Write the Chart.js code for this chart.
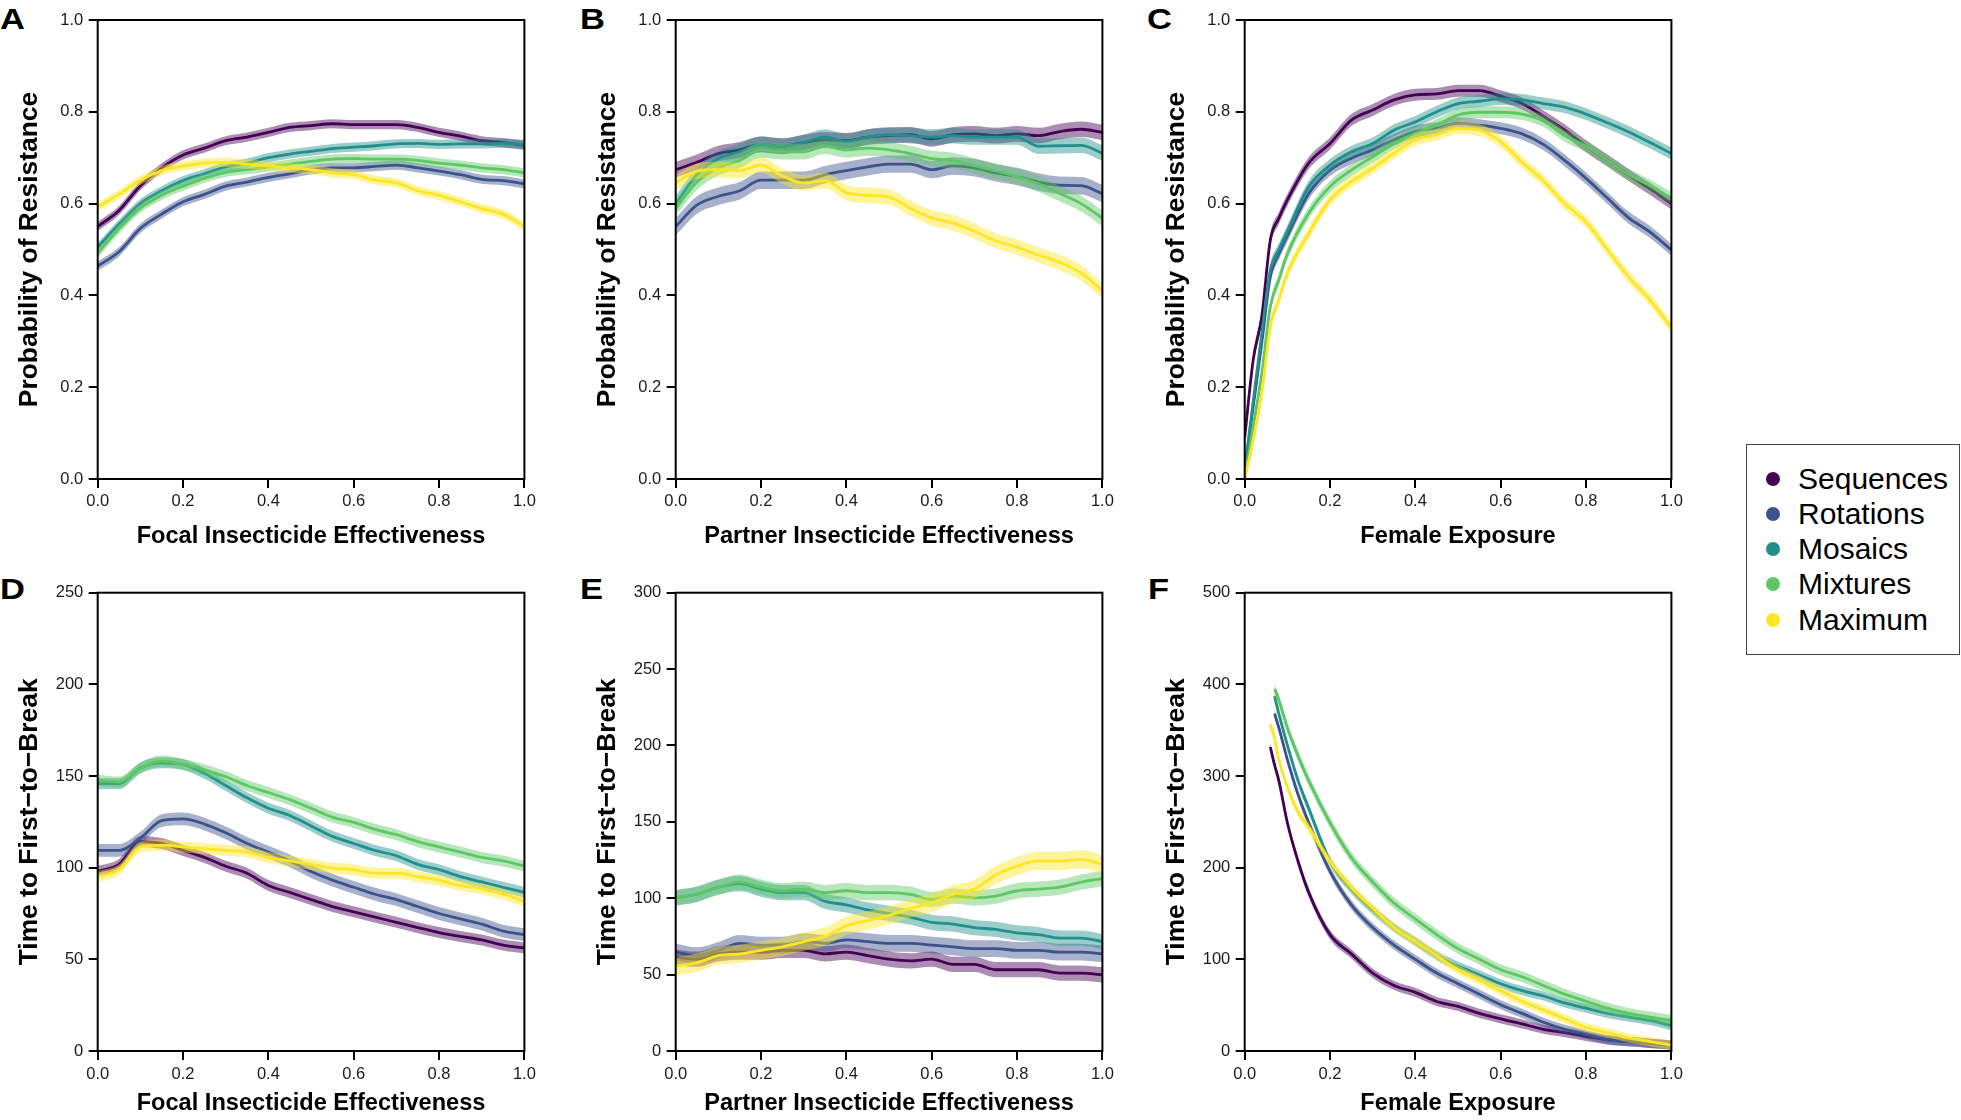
<!DOCTYPE html>
<html>
<head>
<meta charset="utf-8">
<script src="https://cdn.jsdelivr.net/npm/chart.js@4.4.1/dist/chart.umd.min.js"></script>
<style>
  body { margin:0; background:#fff; width:1961px; height:1120px; position:relative; overflow:hidden;
         font-family:"Liberation Sans", Arial, Helvetica, sans-serif; }
  canvas { position:absolute; }
  .letter { position:absolute; font-weight:bold; font-size:30px; line-height:30px; color:#000;
            transform:scaleX(1.15); transform-origin:left top; }
  #legend { position:absolute; left:1746px; top:444px; width:214px; height:211px; box-sizing:border-box;
            border:1.5px solid #444; }
  .row { position:absolute; left:0; height:36px; line-height:36px; font-size:30px; color:#000; white-space:nowrap; }
  .dot { position:absolute; width:14px; height:14px; border-radius:50%; top:11px; left:18.8px; }
  .row span { position:absolute; left:51px; }
</style>
</head>
<body>
<div class="letter" style="left:0px;top:4.4px">A</div>
<div class="letter" style="left:580px;top:4.4px">B</div>
<div class="letter" style="left:1147px;top:4.4px">C</div>
<div class="letter" style="left:0px;top:574px">D</div>
<div class="letter" style="left:580px;top:574px">E</div>
<div class="letter" style="left:1148px;top:574px">F</div>

<canvas id="cA" width="560" height="570" style="left:0px;top:0px"></canvas>
<canvas id="cB" width="560" height="570" style="left:578.3px;top:0px"></canvas>
<canvas id="cC" width="560" height="570" style="left:1147.3px;top:0px"></canvas>
<canvas id="cD" width="560" height="547" style="left:0px;top:573px"></canvas>
<canvas id="cE" width="560" height="547" style="left:578.3px;top:573px"></canvas>
<canvas id="cF" width="560" height="547" style="left:1147.3px;top:573px"></canvas>

<div id="legend"></div>

<script>
const seriesNames = ["Sequences", "Rotations", "Mosaics", "Mixtures", "Maximum"];
const colors = ["#440154", "#3b528b", "#21908c", "#5dc863", "#fde725"];

// x positions
const xStep = [0, 0.05, 0.1, 0.15, 0.2, 0.25, 0.3, 0.35, 0.4, 0.45, 0.5, 0.55, 0.6, 0.65, 0.7, 0.75, 0.8, 0.85, 0.9, 0.95, 1.0];
const xC = [0, 0.02, 0.04, 0.06, 0.08, 0.1, 0.15, 0.2, 0.25, 0.3, 0.35, 0.4, 0.45, 0.5, 0.55, 0.6, 0.65, 0.7, 0.75, 0.8, 0.85, 0.9, 0.95, 1.0];
const xF = [0.06, 0.07, 0.08, 0.1, 0.125, 0.15, 0.2, 0.25, 0.3, 0.35, 0.4, 0.45, 0.5, 0.55, 0.6, 0.65, 0.7, 0.75, 0.8, 0.85, 0.9, 0.95, 1.0];

// A - probability of resistance vs focal insecticide effectiveness
const aSeq = [0.550,0.585,0.639,0.678,0.706,0.721,0.737,0.745,0.755,0.766,0.770,0.774,0.772,0.772,0.772,0.766,0.755,0.747,0.737,0.733,0.727];
const aRot = [0.464,0.495,0.546,0.577,0.604,0.620,0.638,0.647,0.657,0.665,0.674,0.678,0.678,0.681,0.684,0.678,0.671,0.663,0.653,0.650,0.643];
const aMos = [0.505,0.555,0.600,0.628,0.650,0.665,0.680,0.688,0.700,0.708,0.714,0.720,0.723,0.726,0.730,0.731,0.729,0.730,0.730,0.731,0.729];
const aMix = [0.492,0.545,0.590,0.618,0.638,0.655,0.668,0.674,0.680,0.686,0.692,0.697,0.698,0.697,0.697,0.694,0.688,0.684,0.678,0.674,0.667];
const aMax = [0.593,0.620,0.651,0.672,0.682,0.688,0.690,0.686,0.682,0.678,0.674,0.667,0.663,0.651,0.645,0.628,0.618,0.604,0.589,0.577,0.550];
const aBand = [0.010, 0.010, 0.010, 0.010, 0.010];

// B - probability of resistance vs partner insecticide effectiveness
const bSeq = [0.674,0.690,0.709,0.717,0.729,0.725,0.733,0.739,0.737,0.745,0.748,0.750,0.741,0.750,0.752,0.748,0.752,0.748,0.757,0.762,0.755];
const bRot = [0.550,0.597,0.616,0.628,0.651,0.651,0.651,0.663,0.672,0.680,0.686,0.686,0.674,0.682,0.678,0.667,0.659,0.647,0.640,0.639,0.622];
const bMos = [0.600,0.663,0.698,0.713,0.729,0.725,0.733,0.745,0.735,0.745,0.750,0.748,0.745,0.748,0.745,0.745,0.745,0.725,0.726,0.727,0.710];
const bMix = [0.590,0.647,0.678,0.694,0.717,0.713,0.713,0.725,0.717,0.721,0.717,0.709,0.698,0.694,0.682,0.671,0.659,0.643,0.622,0.600,0.568];
const bMax = [0.645,0.671,0.674,0.672,0.684,0.660,0.645,0.650,0.624,0.618,0.614,0.590,0.569,0.558,0.540,0.519,0.505,0.488,0.472,0.449,0.410];
const bBand = [0.017, 0.019, 0.017, 0.017, 0.017];

// C - probability of resistance vs female exposure
const cSeq = [0.09,0.26,0.354,0.52,0.568,0.608,0.688,0.731,0.782,0.804,0.826,0.837,0.839,0.846,0.846,0.834,0.818,0.790,0.760,0.725,0.694,0.662,0.632,0.600];
const cRot = [0.02,0.158,0.296,0.44,0.49,0.53,0.622,0.673,0.699,0.717,0.739,0.757,0.764,0.775,0.771,0.764,0.752,0.729,0.694,0.655,0.612,0.569,0.538,0.499];
const cMos = [0.02,0.17,0.317,0.455,0.50,0.54,0.637,0.684,0.713,0.731,0.760,0.778,0.800,0.818,0.823,0.828,0.826,0.818,0.810,0.795,0.776,0.756,0.733,0.709];
const cMix = [0.00,0.114,0.23,0.375,0.434,0.49,0.579,0.637,0.673,0.702,0.731,0.753,0.771,0.793,0.799,0.799,0.795,0.780,0.748,0.725,0.694,0.663,0.639,0.612];
const cMax = [0.00,0.085,0.187,0.332,0.39,0.448,0.535,0.608,0.648,0.677,0.710,0.739,0.750,0.764,0.760,0.735,0.690,0.650,0.600,0.560,0.500,0.440,0.390,0.330];
const cBand = [0.013, 0.013, 0.013, 0.013, 0.013];

// D - time to first-to-break vs focal insecticide effectiveness
const dSeq = [97.9,101.8,114.2,113.2,109.4,105.6,100.8,97.0,90.3,86.5,82.6,78.8,75.9,73.0,70.2,67.3,64.6,62.5,60.6,57.8,56.2];
const dRot = [109.4,109.4,116.1,125.7,126.6,123.8,119.0,113.2,108.5,103.7,97.9,93.2,89.3,85.5,82.6,78.8,75.0,72.1,69.2,65.4,63.5];
const dMos = [145.8,145.8,154.4,157.2,156.3,151.5,144.8,138.1,132.4,128.5,122.8,117.1,113.2,109.4,106.5,101.8,98.9,95.1,92.2,89.3,86.5];
const dMix = [147.7,146.7,154.4,158.2,156.3,153.4,149.6,144.8,141.0,137.1,132.4,127.6,124.7,120.9,118.0,114.2,111.3,108.5,105.6,103.7,100.8];
const dMax = [95.1,98.9,111.3,112.3,111.3,110.4,109.4,108.5,105.6,103.7,101.8,99.8,98.9,97.0,97.0,95.1,93.2,90.3,88.4,85.5,81.7];
const dBand = [3, 3.5, 3, 3, 3];

// E - time to first-to-break vs partner insecticide effectiveness
const eSeq = [61.3,60.1,63.6,64.7,64.7,65.9,65.9,63.6,64.7,62.4,60.1,59.0,60.1,56.7,56.7,53.2,53.2,53.2,51.0,51.0,49.8];
const eRot = [64.7,62.4,65.9,70.5,69.3,69.3,71.6,70.5,72.8,71.6,70.5,70.5,69.3,68.2,67.0,67.0,65.9,65.9,64.7,64.7,63.6];
const eMos = [100.3,102.6,107.2,109.5,106.0,103.7,103.7,98.0,95.7,92.3,90.0,87.7,84.2,83.1,80.8,79.6,77.3,76.2,73.9,73.9,71.6];
const eMix = [100.3,102.6,107.2,110.6,107.2,104.9,106.0,103.7,104.9,103.7,103.7,102.6,99.2,101.4,100.3,101.4,104.9,106.0,107.2,110.6,112.9];
const eMax = [55.5,57.8,62.4,63.6,65.9,68.2,71.6,75.0,81.9,85.4,88.8,93.4,96.9,102.6,106.0,115.2,121.0,124.4,124.4,125.5,122.1];
const eBand = [5, 5.5, 5, 5, 6];

// F - time to first-to-break vs female exposure
const fSeq = [331.7,312,295,249,207,173,127,106,85,71.5,64,54,48.6,41,35,29.5,23.7,20,16,12.2,10.3,8.4,6.5];
const fRot = [null,368,352.7,318,280,249,196,159.5,134.7,115.5,100,85,73.4,62,50.5,41,31.4,23.7,18,12.2,10.3,8.4,6.5];
const fMos = [null,387,368,333.6,295,264.7,207,176.5,153.8,134.7,119.4,104,92.6,83,73.4,65.8,60,52.4,46.7,41,37,33.3,27.5];
const fMix = [null,395,383,352.7,322,295,249,211,184.4,161.4,144,127,111.7,100.2,88.7,81,71.5,62,54.3,46.7,41,37,33.3];
const fMax = [356.5,341,318,287.7,261,243.7,207,178.4,155.7,134.7,119.4,104,88.7,77.3,65.8,54.3,44.8,35.2,25.6,20,14.2,10.3,6.5];
const fBand = [5, 5, 5, 6, 5];

const FONT = '"Liberation Sans", Arial, Helvetica, sans-serif';
Chart.defaults.font.family = FONT;

function rgba(hex, a) {
    const n = parseInt(hex.slice(1), 16);
    return `rgba(${(n >> 16) & 255},${(n >> 8) & 255},${n & 255},${a})`;
}

function buildDatasets(xs, seriesVals, halfWidths) {
    const datasets = [];
    seriesVals.forEach((vals, i) => {
        const keep = [];
        xs.forEach((x, k) => { if (vals[k] !== null) keep.push(k); });
        const common = { pointRadius: 0, cubicInterpolationMode: 'monotone' };
        const loIndex = datasets.length;
        datasets.push({ ...common, label: seriesNames[i] + ' low',
            data: keep.map(k => ({ x: xs[k], y: vals[k] - halfWidths[i] })),
            borderWidth: 0, borderColor: 'rgba(0,0,0,0)', fill: false, order: 60 - 3 * i });
        datasets.push({ ...common, label: seriesNames[i] + ' high',
            data: keep.map(k => ({ x: xs[k], y: vals[k] + halfWidths[i] })),
            borderWidth: 0, borderColor: 'rgba(0,0,0,0)', fill: loIndex,
            backgroundColor: rgba(colors[i], 0.45), order: 59 - 3 * i });
        datasets.push({ ...common, label: seriesNames[i],
            data: keep.map(k => ({ x: xs[k], y: vals[k] })),
            borderColor: colors[i], borderWidth: 2.8, fill: false, order: 58 - 3 * i });
    });
    return datasets;
}

// box round the plotting area
const frame = {
    id: 'frame',
    afterDraw(chart) {
        const { ctx, chartArea: a } = chart;
        ctx.save();
        ctx.strokeStyle = '#000';
        ctx.lineWidth = 2;
        ctx.strokeRect(a.left, a.top, a.right - a.left, a.bottom - a.top);
        ctx.restore();
    }
};

const PLOT_W = 426.7, Y_AXIS_W = 97.7;

function makeChart(id, xs, seriesVals, bands, o) {
    const bottomRow = o.bottomRow;
    const canvasW = 560;
    return new Chart(document.getElementById(id), {
        type: 'line',
        data: { datasets: buildDatasets(xs, seriesVals, bands) },
        plugins: [frame],
        options: {
            responsive: false,
            animation: false,
            events: [],
            layout: { padding: { left: 0, top: bottomRow ? 19.7 : 20, right: canvasW - Y_AXIS_W - PLOT_W, bottom: 0 } },
            plugins: { legend: { display: false }, tooltip: { enabled: false } },
            scales: {
                x: {
                    type: 'linear', min: 0, max: 1,
                    ticks: { stepSize: 0.2, autoSkip: false, maxRotation: 0, padding: bottomRow ? 4.5 : 3.5,
                             color: '#1a1a1a', font: { size: 16.5 },
                             callback: v => Number(v).toFixed(1) },
                    grid: { drawOnChartArea: false, tickLength: 9, color: '#000', lineWidth: 2 },
                    border: { display: false },
                    title: { display: true, text: o.xTitle, color: '#000',
                             font: { size: 23.6, weight: 'bold' },
                             padding: { top: 0, bottom: bottomRow ? 2.5 : 19.8 } },
                    afterFit: s => { s.height = bottomRow ? 69 : 91; }
                },
                y: {
                    type: 'linear', min: o.yMin, max: o.yMax,
                    ticks: { stepSize: o.yStep, autoSkip: false, padding: 5.4,
                             color: '#1a1a1a', font: { size: 16.5 },
                             callback: o.yFmt },
                    grid: { drawOnChartArea: false, tickLength: 9, color: '#000', lineWidth: 2 },
                    border: { display: false },
                    title: { display: true, text: o.yTitle, color: '#000',
                             font: { size: 26.4, weight: 'bold' },
                             padding: { top: 14.2, bottom: 0 } },
                    afterFit: s => { s.width = Y_AXIS_W; }
                }
            }
        }
    });
}

const probFmt = v => Number(v).toFixed(1);
const intFmt = v => String(Math.round(v));
const probTitle = 'Probability of Resistance';
const timeTitle = 'Time to First\u2212to\u2212Break';

makeChart('cA', xStep, [aSeq, aRot, aMos, aMix, aMax], aBand,
    { xTitle: 'Focal Insecticide Effectiveness', yTitle: probTitle, yMin: 0, yMax: 1, yStep: 0.2, yFmt: probFmt });
makeChart('cB', xStep, [bSeq, bRot, bMos, bMix, bMax], bBand,
    { xTitle: 'Partner Insecticide Effectiveness', yTitle: probTitle, yMin: 0, yMax: 1, yStep: 0.2, yFmt: probFmt });
makeChart('cC', xC, [cSeq, cRot, cMos, cMix, cMax], cBand,
    { xTitle: 'Female Exposure', yTitle: probTitle, yMin: 0, yMax: 1, yStep: 0.2, yFmt: probFmt });
makeChart('cD', xStep, [dSeq, dRot, dMos, dMix, dMax], dBand,
    { xTitle: 'Focal Insecticide Effectiveness', yTitle: timeTitle, yMin: 0, yMax: 250, yStep: 50, yFmt: intFmt, bottomRow: true });
makeChart('cE', xStep, [eSeq, eRot, eMos, eMix, eMax], eBand,
    { xTitle: 'Partner Insecticide Effectiveness', yTitle: timeTitle, yMin: 0, yMax: 300, yStep: 50, yFmt: intFmt, bottomRow: true });
makeChart('cF', xF, [fSeq, fRot, fMos, fMix, fMax], fBand,
    { xTitle: 'Female Exposure', yTitle: timeTitle, yMin: 0, yMax: 500, yStep: 100, yFmt: intFmt, bottomRow: true });

// legend box
const legend = document.getElementById('legend');
legend.innerHTML = seriesNames.map((name, i) =>
    `<div class="row" style="top:${15.5 + i * 35.25}px">
       <div class="dot" style="background:${colors[i]}"></div><span>${name}</span>
     </div>`).join('');
</script>
</body>
</html>
